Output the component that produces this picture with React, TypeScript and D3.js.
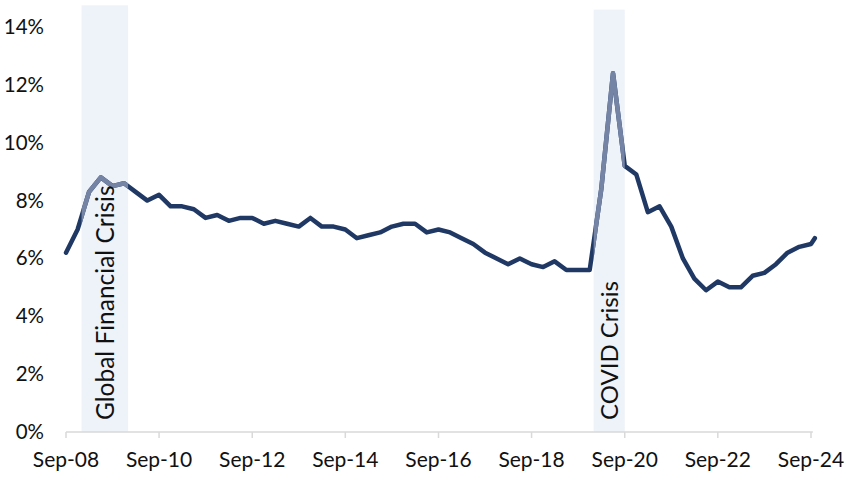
import React from "react";
import * as d3 from "d3";

const startQuarter = "2008-09";
const values: number[] = [
  6.2, 7.0, 8.3, 8.8, 8.5, 8.6, 8.3, 8.0, 8.2, 7.8, 7.8, 7.7, 7.4, 7.5, 7.3, 7.4,
  7.4, 7.2, 7.3, 7.2, 7.1, 7.4, 7.1, 7.1, 7.0, 6.7, 6.8, 6.9, 7.1, 7.2, 7.2, 6.9,
  7.0, 6.9, 6.7, 6.5, 6.2, 6.0, 5.8, 6.0, 5.8, 5.7, 5.9, 5.6, 5.6, 5.6, 8.4, 12.4,
  9.2, 8.9, 7.6, 7.8, 7.1, 6.0, 5.3, 4.9, 5.2, 5.0, 5.0, 5.4, 5.5, 5.8, 6.2, 6.4,
  6.5,
];
const lastDate = "2024-10";
const lastValue = 6.7;

const yTicks = [0, 2, 4, 6, 8, 10, 12, 14];
const xTickDates = ["2008-09", "2010-09", "2012-09", "2014-09", "2016-09", "2018-09", "2020-09", "2022-09", "2024-09"];

const bandLabels = ["Global Financial Crisis", "COVID Crisis"];
const bandStarts = ["2009-01", "2020-01"];
const bandEnds = ["2010-01", "2020-09"];
const bandTops = [14.75, 14.6];

const parse = d3.timeParse("%Y-%m");
const fmtTick = d3.timeFormat("%b-%y");

const W = 851;
const H = 486;
const FONT = "Lato, 'Open Sans', sans-serif";

export default function App() {
  const start = parse(startQuarter)!;
  const dates = values.map((_, i) => d3.timeMonth.offset(start, i * 3));
  const data = values.map((v, i) => ({ date: dates[i], value: v }));
  data.push({ date: parse(lastDate)!, value: lastValue });

  const x = d3.scaleTime()
    .domain([parse("2008-09")!, parse("2024-09")!])
    .range([66, 811]);
  const y = d3.scaleLinear().domain([0, 14]).range([432, 27]);

  const line = d3.line<{ date: Date; value: number }>()
    .x((d) => x(d.date))
    .y((d) => y(d.value));
  const path = line(data) || "";

  const bands = bandLabels.map((label, i) => ({
    label,
    x0: x(parse(bandStarts[i])!),
    x1: x(parse(bandEnds[i])!),
    top: y(bandTops[i]),
  }));

  const axisEnd = x(parse(lastDate)!) - 2;

  return (
    <svg width={W} height={H} style={{ position: "absolute", left: 0, top: 0 }}>
      <rect width={W} height={H} fill="#ffffff" />
      <defs>
        <clipPath id="crisisClip">
          {bands.map((b, i) => (
            <rect key={i} x={b.x0} y={0} width={b.x1 - b.x0} height={H} />
          ))}
        </clipPath>
      </defs>
      {bands.map((b, i) => (
        <rect key={i} x={b.x0} y={b.top} width={b.x1 - b.x0} height={y(0) - b.top} fill="#EEF2F9" />
      ))}
      {/* axis */}
      <line x1={x.range()[0]} x2={axisEnd} y1={y(0)} y2={y(0)} stroke="#D9D9D9" strokeWidth={1.5} />
      {xTickDates.map((d) => {
        const xx = x(parse(d)!);
        return (
          <g key={d}>
            <line x1={xx} x2={xx} y1={y(0)} y2={y(0) + 6} stroke="#D9D9D9" strokeWidth={1.5} />
            <text x={xx} y={467} textAnchor="middle" fontFamily={FONT} fontSize={21} fill="#111">
              {fmtTick(parse(d)!)}
            </text>
          </g>
        );
      })}
      {yTicks.map((t) => (
        <text key={t} x={44} y={y(t) + 7} textAnchor="end" fontFamily={FONT} fontSize={20.5} fill="#111">
          {t}%
        </text>
      ))}
      <path d={path} fill="none" stroke="#1F3864" strokeWidth={4.5} strokeLinejoin="round" strokeLinecap="round" />
      <path d={path} fill="none" stroke="#7584A5" strokeWidth={4.5} strokeLinejoin="round" clipPath="url(#crisisClip)" />
      {bands.map((b, i) => {
        const cx = (b.x0 + b.x1) / 2 + 9;
        return (
          <text key={i} transform={`translate(${cx},420) rotate(-90)`} fontFamily={FONT} fontSize={i === 0 ? 24.5 : 24} fill="#111">
            {b.label}
          </text>
        );
      })}
    </svg>
  );
}
